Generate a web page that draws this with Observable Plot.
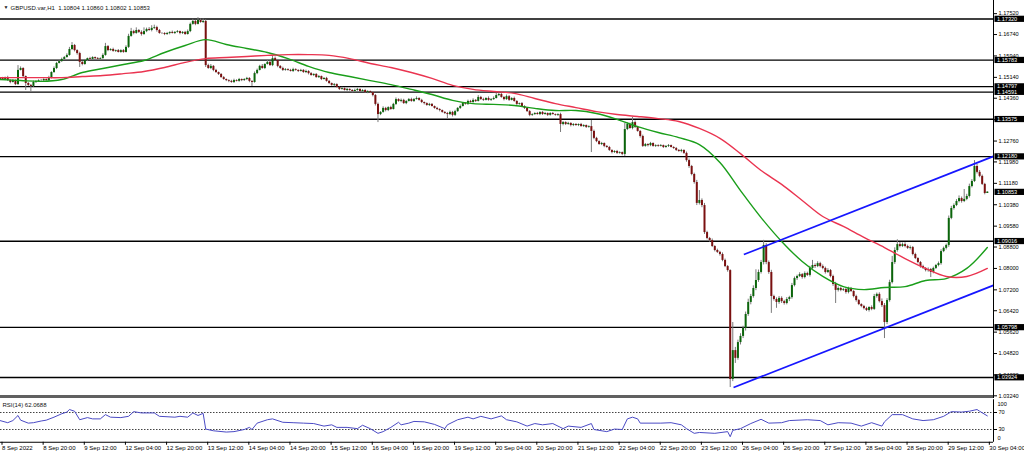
<!DOCTYPE html>
<html><head><meta charset="utf-8">
<script src="https://cdn.jsdelivr.net/npm/d3@7"></script>
<script src="https://cdn.jsdelivr.net/npm/@observablehq/plot@0.6"></script>
<style>
body{margin:0;background:#fff;width:1024px;height:453px;overflow:hidden;font-family:"Liberation Sans",Arial,sans-serif}
#wrap{position:relative;width:1024px;height:453px}
#main{position:absolute;left:0;top:0}
#rsi{position:absolute;left:0;top:398px}
#sep{position:absolute;left:0;top:395px;width:993px;height:3px;background:#606060}
</style></head><body><div id="wrap"><div id="main"></div><div id="sep"></div><div id="rsi"></div></div>
<script>
// ---- hourly closes, GBPUSD H1, 8 Sep 04:00 .. 30 Sep 04:00 (bar index 0..384)
const closes = [
1.1510,1.1506,1.1513,1.1502,1.1495,1.1502,1.1487,1.1540,1.1547,1.1517,1.1491,1.1484,1.1480,1.1495,1.1499,1.1502,
1.1502,1.1506,1.1502,1.1513,1.1532,1.1547,1.1566,1.1573,1.1581,1.1588,1.1596,1.1618,1.1633,1.1614,1.1603,1.1570,
1.1562,1.1577,1.1584,1.1581,1.1588,1.1584,1.1581,1.1584,1.1596,1.1629,1.1614,1.1618,1.1611,1.1614,1.1607,1.1614,
1.1607,1.1626,1.1667,1.1685,1.1678,1.1689,1.1682,1.1674,1.1685,1.1693,1.1689,1.1697,1.1700,1.1689,1.1678,1.1678,
1.1674,1.1678,1.1682,1.1678,1.1682,1.1685,1.1678,1.1682,1.1674,1.1685,1.1712,1.1723,1.1712,1.1727,1.1719,1.1723,
1.1558,1.1547,1.1555,1.1540,1.1532,1.1525,1.1513,1.1506,1.1502,1.1499,1.1495,1.1502,1.1499,1.1506,1.1502,1.1506,
1.1510,1.1499,1.1495,1.1528,1.1540,1.1555,1.1547,1.1562,1.1570,1.1558,1.1584,1.1577,1.1555,1.1547,1.1540,1.1543,
1.1540,1.1536,1.1543,1.1540,1.1536,1.1540,1.1532,1.1536,1.1528,1.1521,1.1525,1.1513,1.1517,1.1506,1.1510,1.1499,
1.1491,1.1484,1.1487,1.1476,1.1469,1.1472,1.1465,1.1469,1.1465,1.1461,1.1465,1.1469,1.1461,1.1465,1.1457,1.1461,
1.1457,1.1446,1.1413,1.1375,1.1383,1.1398,1.1390,1.1401,1.1394,1.1413,1.1431,1.1424,1.1428,1.1416,1.1424,1.1431,
1.1424,1.1431,1.1435,1.1428,1.1420,1.1416,1.1409,1.1413,1.1405,1.1398,1.1394,1.1390,1.1383,1.1379,1.1375,1.1383,
1.1372,1.1386,1.1398,1.1405,1.1416,1.1413,1.1424,1.1420,1.1428,1.1424,1.1439,1.1431,1.1428,1.1435,1.1428,1.1431,
1.1435,1.1446,1.1450,1.1439,1.1431,1.1442,1.1428,1.1435,1.1424,1.1413,1.1416,1.1405,1.1398,1.1386,1.1372,1.1375,
1.1379,1.1375,1.1383,1.1375,1.1379,1.1372,1.1379,1.1375,1.1372,1.1375,1.1338,1.1345,1.1338,1.1342,1.1334,1.1338,
1.1334,1.1338,1.1330,1.1334,1.1327,1.1330,1.1312,1.1286,1.1274,1.1263,1.1267,1.1256,1.1252,1.1241,1.1233,1.1237,
1.1230,1.1233,1.1226,1.1319,1.1338,1.1323,1.1345,1.1327,1.1312,1.1293,1.1256,1.1263,1.1259,1.1267,1.1256,1.1259,
1.1256,1.1259,1.1252,1.1256,1.1259,1.1252,1.1248,1.1241,1.1237,1.1241,1.1230,1.1203,1.1181,1.1151,1.1121,1.1043,
1.1054,1.1035,1.0934,1.0912,1.0904,1.0882,1.0867,1.0860,1.0852,1.0830,1.0807,1.0792,1.0385,1.0493,1.0464,1.0523,
1.0546,1.0576,1.0628,1.0673,1.0695,1.0725,1.0755,1.0785,1.0822,1.0886,1.0822,1.0785,1.0695,1.0684,1.0673,1.0688,
1.0676,1.0669,1.0684,1.0691,1.0736,1.0762,1.0770,1.0777,1.0766,1.0781,1.0774,1.0800,1.0811,1.0807,1.0818,1.0807,
1.0800,1.0785,1.0792,1.0770,1.0740,1.0718,1.0725,1.0718,1.0721,1.0710,1.0725,1.0714,1.0695,1.0680,1.0665,1.0658,
1.0650,1.0643,1.0654,1.0647,1.0695,1.0703,1.0676,1.0661,1.0598,1.0680,1.0747,1.0822,1.0867,1.0889,1.0882,1.0889,
1.0882,1.0875,1.0878,1.0852,1.0837,1.0822,1.0807,1.0800,1.0792,1.0796,1.0785,1.0800,1.0811,1.0818,1.0863,1.0875,
1.0886,1.0987,1.1024,1.1035,1.1050,1.1061,1.1050,1.1058,1.1069,1.1106,1.1125,1.1181,1.1159,1.1144,1.1114,1.1080,1.10853
];
const firstOpen = 1.1505;
// upper / lower wick beyond the body, in pips
const wickUp = [
3,4,2,5,3,4,2,18,6,3,2,4,3,5,2,3, 4,3,2,5,3,6,4,3,5,4,6,8,11,4,3,5,
3,4,2,5,3,2,4,3,6,12,4,3,5,2,4,3, 4,6,8,12,5,10,4,6,14,5,7,10,9,5,4,3,
3,4,2,5,3,4,2,3,4,6,5,8,4,10,5,9, 6,5,7,3,4,2,3,4,2,3,4,5,3,4,2,3,
4,3,2,6,5,4,7,3,8,5,12,6,4,3,5,4, 3,4,5,3,2,4,3,5,3,4,2,3,4,2,3,4,
3,2,4,3,2,5,3,4,2,3,5,4,2,3,4,3, 2,3,4,5,3,6,4,3,5,4,6,3,5,4,3,4,
5,4,6,3,4,2,3,4,3,2,4,3,2,3,4,5, 4,5,3,6,4,3,5,4,6,3,7,4,5,3,6,4,
6,8,5,4,3,6,4,3,5,3,2,4,3,2,4,3, 3,4,2,3,4,2,3,4,2,3,5,4,3,4,2,3,
3,2,4,3,2,3,23,5,4,3,4,2,3,4,2,3, 4,3,2,23,6,5,19,6,4,3,5,4,3,4,2,3,
3,4,2,3,4,2,3,4,3,4,2,5,6,4,5,8, 37,6,8,5,4,6,3,5,4,6,5,4,3,105,12,9,
10,8,9,12,8,10,40,9,8,19,7,6,8,5,6,7, 6,5,7,5,8,6,5,7,4,6,5,8,19,6,7,5,
6,5,7,4,5,8,6,5,4,6,5,4,3,5,4,3, 4,5,3,6,8,5,6,10,8,7,9,23,10,18,8,6,
7,5,6,4,5,3,4,5,3,6,4,5,4,6,7,5, 5,9,8,6,7,10,6,37,8,9,7,22,8,7,5,4,1
];
const wickDn = [
3,2,4,3,5,2,4,3,2,5,26,4,19,3,4,2, 3,4,2,3,5,3,4,2,3,4,2,3,4,5,6,19,
5,3,4,2,3,4,2,3,2,3,4,2,3,4,2,3, 3,2,4,3,5,3,4,6,3,4,3,5,4,6,3,4,
4,3,5,2,4,3,5,4,3,2,4,3,5,2,3,4, 7,3,4,5,3,4,2,3,4,5,3,4,2,3,4,3,
4,5,15,3,4,2,3,4,2,3,4,2,5,3,4,3, 3,2,4,3,4,2,3,4,5,3,4,2,3,4,2,3,
4,3,5,2,4,3,2,4,3,5,2,3,4,2,3,4, 3,5,6,30,4,3,5,4,3,2,4,3,5,3,4,2,
3,4,2,3,4,5,3,4,2,3,4,5,3,4,15,4, 6,4,3,4,2,3,4,2,3,4,2,3,4,2,3,4,
3,2,4,3,5,3,4,2,3,4,3,2,4,3,5,4, 3,2,4,3,2,4,3,2,3,4,30,5,4,3,5,4,
3,4,2,3,4,3,79,5,4,3,4,5,3,4,5,3, 4,3,5,8,4,3,5,4,3,6,4,3,5,4,3,4,
3,2,4,3,4,2,3,4,3,5,4,6,7,5,6,8, 6,8,7,5,6,4,5,4,6,5,4,6,30,8,19,7,
9,8,10,7,9,6,8,7,6,9,8,7,63,6,22,7, 7,6,5,8,6,5,7,4,6,5,4,6,5,7,4,5,
5,6,4,5,7,49,6,5,4,6,5,4,5,6,4,5, 5,4,6,5,4,6,5,7,60,8,6,5,7,6,5,4,
5,4,6,5,4,5,6,4,5,6,19,5,4,5,6,4, 6,7,5,6,4,5,6,4,5,6,5,4,6,5,4,5,0
];
// moving averages read every 8 bars
const maBars = [0,8,16,24,32,40,48,56,64,72,80,88,96,104,112,120,128,136,144,152,160,168,176,184,192,200,208,216,224,232,240,248,256,264,272,280,288,296,304,312,320,328,336,344,352,360,368,376,384];
const maGreen = [1.1506,1.1502,1.1499,1.1506,1.1532,1.1547,1.1562,1.1577,1.1607,1.1633,1.1655,1.1637,1.1622,1.1607,1.1584,1.1555,1.1532,1.1517,1.1502,1.1487,1.1469,1.1450,1.1428,1.1416,1.1413,1.1409,1.1398,1.1390,1.1390,1.1379,1.1357,1.1330,1.1308,1.1289,1.1263,1.1196,1.1091,1.0990,1.0901,1.0826,1.0770,1.0732,1.0721,1.0729,1.0732,1.0755,1.0762,1.0800,1.0878];
const maRed = [1.1513,1.1513,1.1513,1.1513,1.1517,1.1521,1.1528,1.1536,1.1551,1.1570,1.1584,1.1588,1.1592,1.1596,1.1599,1.1599,1.1596,1.1584,1.1566,1.1551,1.1532,1.1510,1.1484,1.1469,1.1461,1.1454,1.1435,1.1416,1.1401,1.1386,1.1375,1.1368,1.1360,1.1349,1.1323,1.1286,1.1229,1.1166,1.1114,1.1054,1.0994,1.0957,1.0916,1.0878,1.0837,1.0800,1.0770,1.0770,1.0800];
// RSI(14)
const rsiBar = [0,3,5,7,8,11,13,16,18,21,24,26,27,29,31,34,36,39,41,43,47,50,52,55,60,62,68,70,73,75,77,79,80,83,88,91,95,97,98,100,104,106,110,114,118,122,126,129,131,135,139,141,144,147,149,152,155,156,159,161,165,169,173,174,178,182,184,187,191,195,197,201,205,208,211,215,219,221,226,230,231,236,239,242,244,246,248,249,257,261,265,267,270,272,278,283,284,285,288,292,296,299,304,307,314,319,322,326,331,335,339,343,344,347,351,355,359,363,367,370,374,377,380,381,384];
const rsiVal = [51,46,51,63,52,45,46,50,52,59,67,71,77,73,53,58,55,55,65,59,58,61,72,69,69,61,59,61,59,69,63,68,31,27,24,25,30,35,30,45,53,55,47,46,45,44,38,41,35,35,32,40,32,21,25,35,47,41,45,49,48,42,32,41,53,59,55,61,55,62,53,48,38,44,41,44,32,38,35,44,30,25,31,30,55,59,55,45,45,46,41,32,21,23,21,25,13,28,32,44,54,45,46,51,53,51,41,46,45,38,46,38,48,65,65,55,51,53,61,72,71,73,77,73,62.07];
const rsiLevels = [70, 30];
// horizontal levels and channel
const levels = [1.17320,1.15783,1.14797,1.14591,1.13575,1.12180,1.09016,1.05798,1.03924];
const lastPrice = 1.10853;
const chBar1 = [285.3, 289.3], chPrice1 = [1.0355, 1.0852];
const chBar2 = [387.2, 387.2], chPrice2 = [1.0740, 1.1222];
// axis ticks
const yTicks = [1.17520,1.16740,1.15940,1.15140,1.14360,1.13560,1.12760,1.11980,1.11180,1.10380,1.09580,1.08800,1.08000,1.07200,1.06420,1.05620,1.04820,1.04020,1.03240];
const timeBars = [0,16,32,48,64,80,96,112,128,144,160,176,192,208,224,240,256,272,288,304,320,336,352,368,384];
const timeLabels = ["8 Sep 2022","8 Sep 20:00","9 Sep 12:00","12 Sep 04:00","12 Sep 20:00","13 Sep 12:00","14 Sep 04:00","14 Sep 20:00","15 Sep 12:00","16 Sep 04:00","16 Sep 20:00","19 Sep 12:00","20 Sep 04:00","20 Sep 20:00","21 Sep 12:00","22 Sep 04:00","22 Sep 20:00","23 Sep 12:00","26 Sep 04:00","26 Sep 20:00","27 Sep 12:00","28 Sep 04:00","28 Sep 20:00","29 Sep 12:00","30 Sep 04:00"];
const titleText = "GBPUSD.var,H1  1.10804 1.10860 1.10802 1.10853";
const rsiTitle = "RSI(14) 62.0688";

// ---- build tables
const bars = closes.map((c, i) => {
  const o = i ? closes[i - 1] : firstOpen;
  return {i, o, c, h: Math.max(o, c) + wickUp[i] / 1e4, l: Math.min(o, c) - wickDn[i] / 1e4};
});
const ma = maBars.map((b, k) => ({bar: b, green: maGreen[k], red: maRed[k]}));
const rsi = rsiBar.map((b, k) => ({bar: b, v: rsiVal[k]}));
const channels = chBar1.map((b, k) => ({b1: b, p1: chPrice1[k], b2: chBar2[k], p2: chPrice2[k]}));
const hilite = [...levels, lastPrice];
const tl = new Map(timeBars.map((b, k) => [b, timeLabels[k]]));
const f5 = d3.format(".5f");
const HILITE_FILL = "#fffffe";

const xDomain = [0.19, 386.4];
const FONT = "Liberation Sans, Arial, sans-serif";
const fs = 5.6;

const main = Plot.plot({
  width: 1024, height: 398,
  marginLeft: 0, marginRight: 31, marginTop: 0, marginBottom: 0,
  style: {background: "white", fontFamily: FONT, overflow: "visible"},
  x: {domain: xDomain, axis: null},
  y: {domain: [1.03140, 1.18012]},
  marks: [
    Plot.ruleY(levels, {stroke: "#000", strokeWidth: 1.3}),
    Plot.ruleX(bars, {x: "i", y1: "l", y2: "h", stroke: "#7a7a7a", strokeWidth: 1, clip: true}),
    Plot.ruleX(bars.filter(d => d.c >= d.o), {x: "i", y1: "o", y2: "c", stroke: "#0b650b", strokeWidth: 2, clip: true}),
    Plot.ruleX(bars.filter(d => d.c < d.o), {x: "i", y1: "o", y2: "c", stroke: "#7a1010", strokeWidth: 2, clip: true}),
    Plot.line(ma, {x: "bar", y: "green", stroke: "#1a9e1a", strokeWidth: 1.4, curve: "catmull-rom", clip: true}),
    Plot.line(ma, {x: "bar", y: "red", stroke: "#ea3450", strokeWidth: 1.4, curve: "catmull-rom", clip: true}),
    Plot.link(channels, {x1: "b1", y1: "p1", x2: "b2", y2: "p2", stroke: "#1616ff", strokeWidth: 1.8, clip: true}),
    Plot.ruleX([xDomain[1]], {stroke: "#000", strokeWidth: 1}),
    Plot.axisY({anchor: "right", ticks: yTicks, tickFormat: f5, tickSize: 3, tickPadding: 2, fontSize: fs, label: null}),
    Plot.text(hilite, {y: d => d, text: d => f5(d), frameAnchor: "right", dx: 3.5, textAnchor: "start", fill: HILITE_FILL, fontSize: fs}),
    Plot.text(["\u25BC"], {frameAnchor: "top-left", dx: 3, dy: 5, fontSize: 5, fill: "#222"}),
    Plot.text([titleText], {frameAnchor: "top-left", dx: 10, dy: 5, textAnchor: "start", fontSize: 6, fill: "#111"})
  ]
});
document.getElementById("main").append(main);
// black label boxes behind the highlighted prices
main.querySelectorAll("text").forEach(t => {
  const g = t.parentNode;
  const isHi = (g && g.getAttribute && g.getAttribute("fill") === HILITE_FILL) || t.getAttribute("fill") === HILITE_FILL;
  if (!isHi) return;
  const b = t.getBBox();
  const mid = b.y + b.height / 2;
  const r = document.createElementNS("http://www.w3.org/2000/svg", "rect");
  r.setAttribute("x", b.x - 2.5);
  r.setAttribute("y", mid - 3.1);
  r.setAttribute("width", 60);
  r.setAttribute("height", 6.2);
  r.setAttribute("fill", "#000");
  const tr = t.getAttribute("transform");
  if (tr) r.setAttribute("transform", tr);
  g.insertBefore(r, t);
});

const rsiPlot = Plot.plot({
  width: 1024, height: 55,
  marginLeft: 0, marginRight: 31, marginTop: 1.25, marginBottom: 11.25,
  style: {background: "white", fontFamily: FONT, overflow: "visible"},
  x: {domain: xDomain},
  y: {domain: [0, 100]},
  marks: [
    Plot.ruleY(rsiLevels, {stroke: "#444", strokeDasharray: "1.5,1.5", strokeWidth: 1}),
    Plot.line(rsi, {x: "bar", y: "v", stroke: "#4a4ac4", strokeWidth: 1, clip: true}),
    Plot.ruleY([0], {stroke: "#000"}),
    Plot.ruleX([xDomain[1]], {stroke: "#000"}),
    Plot.axisX({anchor: "bottom", ticks: timeBars, tickFormat: d => tl.get(d), tickSize: 3, tickPadding: 0.5, textAnchor: "start", dx: 2, fontSize: 6, label: null}),
    Plot.axisY({anchor: "right", ticks: rsiLevels, tickSize: 3, tickPadding: 2, fontSize: fs, label: null}),
    Plot.text([100], {y: d => d, text: d => String(d), frameAnchor: "right", dx: 4, dy: 4, textAnchor: "start", fontSize: fs}),
    Plot.text([0], {y: d => d, text: d => String(d), frameAnchor: "right", dx: 4, dy: -4.5, textAnchor: "start", fontSize: fs}),
    Plot.text([rsiTitle], {frameAnchor: "top-left", dx: 2, dy: 3, textAnchor: "start", lineAnchor: "top", fontSize: 6, fill: "#111"})
  ]
});
document.getElementById("rsi").append(rsiPlot);
</script></body></html>
